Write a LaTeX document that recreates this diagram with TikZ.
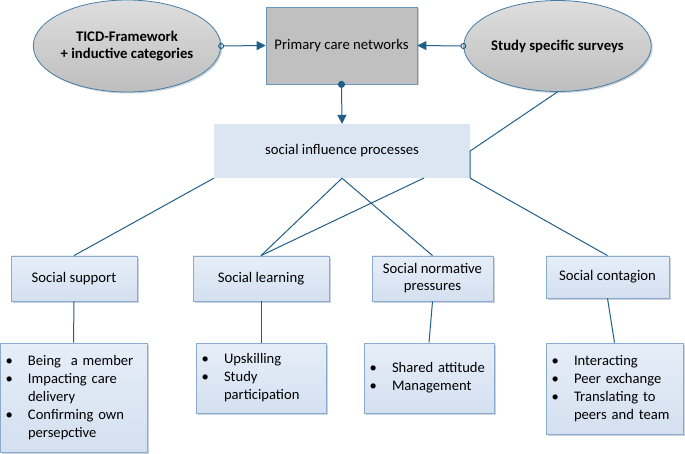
\documentclass[tikz,border=0pt]{standalone}
\usepackage{fontspec}
\setmainfont{Carlito}
\usetikzlibrary{arrows.meta,shapes.geometric,shadows}
\definecolor{lnc}{RGB}{31,95,135}
\definecolor{boxbd}{RGB}{140,170,205}
\definecolor{boxtop}{RGB}{230,238,248}
\definecolor{boxbot}{RGB}{212,224,240}
\definecolor{sipfill}{RGB}{220,230,243}
\definecolor{shd}{RGB}{150,165,185}
\definecolor{ellbd}{RGB}{70,125,165}
\definecolor{elltop}{RGB}{222,222,222}
\definecolor{ellbot}{RGB}{190,190,190}
\definecolor{primfill}{RGB}{192,192,192}
\definecolor{primbd}{RGB}{105,150,185}
\newcommand{\myitem}[1]{\makebox[22.5pt][l]{\textbullet}#1}
\newcommand{\mycont}[1]{\hspace*{22.5pt}#1}
\tikzset{
  bluebox/.style={draw=boxbd, line width=0.8pt, top color=boxtop, bottom color=boxbot,
    drop shadow={shadow xshift=1.8pt,shadow yshift=-1.8pt,fill=shd},
    inner sep=0pt, align=center},
  listbox/.style={bluebox, align=left, inner xsep=5.5pt, inner ysep=0pt,
    font=\fontsize{14.6}{18}\selectfont},
  ellnode/.style={ellipse, draw=ellbd, line width=0.8pt, top color=elltop, bottom color=ellbot,
    drop shadow={shadow xshift=1.5pt,shadow yshift=-1.5pt,fill=shd},
    inner sep=0pt, align=center, font=\fontsize{14.7}{17}\selectfont\bfseries},
  conn/.style={draw=lnc, line width=1pt},
  arr/.style={conn, -{Triangle[length=9pt,width=9pt]}},
}
\begin{document}
\begin{tikzpicture}[x=1pt,y=-1pt,font=\fontsize{14.7}{17}\selectfont]
\useasboundingbox (0,0) rectangle (685,454);

% top row
\node[ellnode, minimum width=152pt, minimum height=92pt] (ticd) at (127,46)
  {TICD-Framework\\+ inductive categories};
\node[ellnode, minimum width=151pt, minimum height=91pt] (sts) at (557.5,46)
  {Study specific surveys};
\node[draw=primbd, line width=0.8pt, fill=primfill,
  drop shadow={shadow xshift=1.5pt,shadow yshift=-1.5pt,fill=shd},
  minimum width=151pt, minimum height=77pt, inner sep=0pt] (pcn) at (341.5,45.5)
  {Primary care networks};

% social influence processes
\node[fill=sipfill, minimum width=256pt, minimum height=54pt, inner sep=0pt] (sip) at (342,151)
  {social influence processes};
\coordinate (sipb) at (424,178);

% middle row
\node[bluebox, minimum width=126pt, minimum height=45pt] (ss) at (74,278.5) {Social support};
\node[bluebox, minimum width=136pt, minimum height=45pt] (sl) at (261,278.5) {Social learning};
\node[bluebox, minimum width=121pt, minimum height=45pt] (sn) at (432.5,278.5) {Social normative\\pressures};
\node[bluebox, minimum width=123pt, minimum height=42pt] (sc) at (607.5,277) {Social contagion};

% bottom row
\node[listbox, text width=136pt, minimum height=109pt] (b1) at (73.5,397.5)
  {\myitem{Being~ a member}\\\myitem{Impacting care}\\\mycont{delivery}\\\myitem{Confirming own}\\\mycont{persepctive}};
\node[listbox, text width=119pt, minimum height=70pt] (b2) at (261,378)
  {\myitem{Upskilling}\\\myitem{Study}\\\mycont{participation}};
\node[listbox, text width=119pt, minimum height=70pt] (b3) at (429,378)
  {\myitem{Shared attitude}\\\myitem{Management}};
\node[listbox, text width=126pt, minimum height=91pt] (b4) at (614.5,388.5)
  {\myitem{Interacting}\\\myitem{Peer exchange}\\\myitem{Translating to}\\\mycont{peers and team}};

% top connectors
\draw[arr, {Circle[open,length=6pt,width=6pt]}-{Triangle[length=9pt,width=9pt]}, shorten <=-3pt]
  (ticd.east) -- (pcn.west);
\draw[arr, {Circle[open,length=6pt,width=6pt]}-{Triangle[length=9pt,width=9pt]}, shorten <=-3pt]
  (sts.west) -- (pcn.east);
\draw[arr, {Circle[length=7pt,width=7pt]}-{Triangle[length=9pt,width=9pt]}, shorten <=-3.5pt]
  (pcn.south) -- (sip.north);
\draw[conn] (sts.south) -- (sip.east) -- (sip.south east);

% middle connectors
\draw[conn] (sip.south west) -- (ss.north);
\draw[conn] (sip.south) -- (sl.north);
\draw[conn] (sip.south) -- (sn.north);
\draw[conn] (sipb) -- (sl.north);
\draw[conn] (sip.south east) -- (sc.north);

% lower connectors
\draw[conn] (ss.south) -- (b1.north);
\draw[conn] (sl.south) -- (b2.north);
\draw[conn] (sn.south) -- (b3.north);
\draw[conn] (sc.south) -- (b4.north);
\end{tikzpicture}
\end{document}
